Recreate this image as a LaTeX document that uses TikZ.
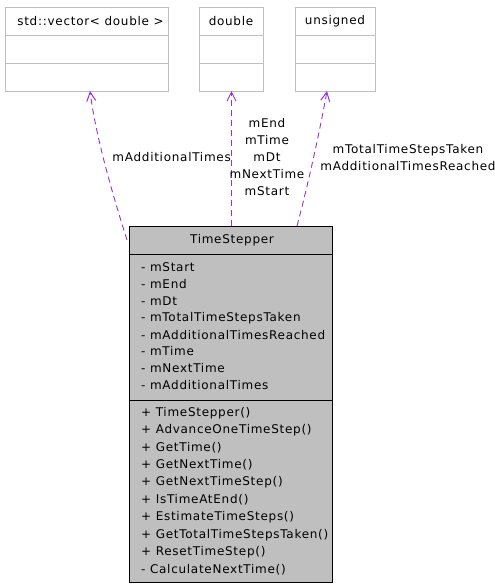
\documentclass[tikz,border=0pt]{standalone}
\usepackage{fontspec}
\newfontfamily\df[LetterSpace=6]{DejaVu Sans}
\usetikzlibrary{arrows.meta}
\definecolor{edgec}{HTML}{9A32CD}
\definecolor{boxg}{HTML}{BFBFBF}
\tikzset{
  txt/.style={font=\df\fontsize{12}{14}\selectfont, inner sep=0pt, text=black},
  lft/.style={txt, anchor=west},
  ctr/.style={txt, anchor=center},
  dep/.style={draw=edgec, dashed, dash pattern=on 6pt off 4pt, line width=0.9pt,
     -{Straight Barb[length=9pt,width=9pt,line width=1pt]}},
  ext/.style={draw=boxg, fill=white, line width=0.8pt},
  main/.style={draw=black, fill=boxg, line width=0.8pt}
}
\begin{document}
\begin{tikzpicture}[x=1pt,y=-1pt]
\useasboundingbox (0,0) rectangle (495,587);
% external boxes
\draw[ext] (5,7) rectangle (168,91);
\draw[boxg, line width=0.8pt] (5,35) -- (168,35) (5,63) -- (168,63);
\node[ctr] (vec) at (90.5,21) {std::vector< double >};
\coordinate (vecb) at (90,91);

\draw[ext] (199,7) rectangle (263,91);
\draw[boxg, line width=0.8pt] (199,35) -- (263,35) (199,63) -- (263,63);
\node[ctr] (dbl) at (231,21) {double};
\coordinate (dblb) at (231.5,91);

\draw[ext] (295,7) rectangle (375,91);
\draw[boxg, line width=0.8pt] (295,35) -- (375,35) (295,63) -- (375,63);
\node[ctr] (uns) at (335,21) {unsigned};
\coordinate (unsb) at (327,91);

% main box
\draw[main] (129,226) rectangle (332,582);
\draw[black, line width=0.8pt] (129,254) -- (332,254) (129,400) -- (332,400);
\node[ctr] (ts) at (232,240) {TimeStepper};
\foreach \t [count=\i from 0] in {mStart,mEnd,mDt,mTotalTimeStepsTaken,mAdditionalTimesReached,mTime,mNextTime,mAdditionalTimes}
  \node[lft] (a\i) at (141,{267+16.9*\i}) {- \t};
\foreach \t [count=\i from 0] in {TimeStepper(),AdvanceOneTimeStep(),GetTime(),GetNextTime(),GetNextTimeStep(),IsTimeAtEnd(),EstimateTimeSteps(),GetTotalTimeStepsTaken(),ResetTimeStep()}
  \node[lft] (m\i) at (141,{413+17.4*\i}) {+ \t};
\node[lft] (m9) at (141,570) {- CalculateNextTime()};

\coordinate (s1) at (127,240);
\coordinate (s2) at (231.5,226);
\coordinate (s3) at (297,226);

% connectors
\draw[dep] (s1) .. controls (108,180) and (95,130) .. (vecb);
\draw[dep] (s2) -- (dblb);
\draw[dep] (s3) .. controls (308,185) and (320,130) .. (unsb);

% labels
\node[txt, anchor=east] (l1) at (231,157) {mAdditionalTimes};
\node[txt, align=center, font=\df\fontsize{12}{17}\selectfont] (l2) at (267,157) {mEnd\\mTime\\mDt\\mNextTime\\mStart};
\node[txt, align=center, font=\df\fontsize{12}{17}\selectfont] (l3) at (408,157.5) {mTotalTimeStepsTaken\\mAdditionalTimesReached};
\end{tikzpicture}
\end{document}
